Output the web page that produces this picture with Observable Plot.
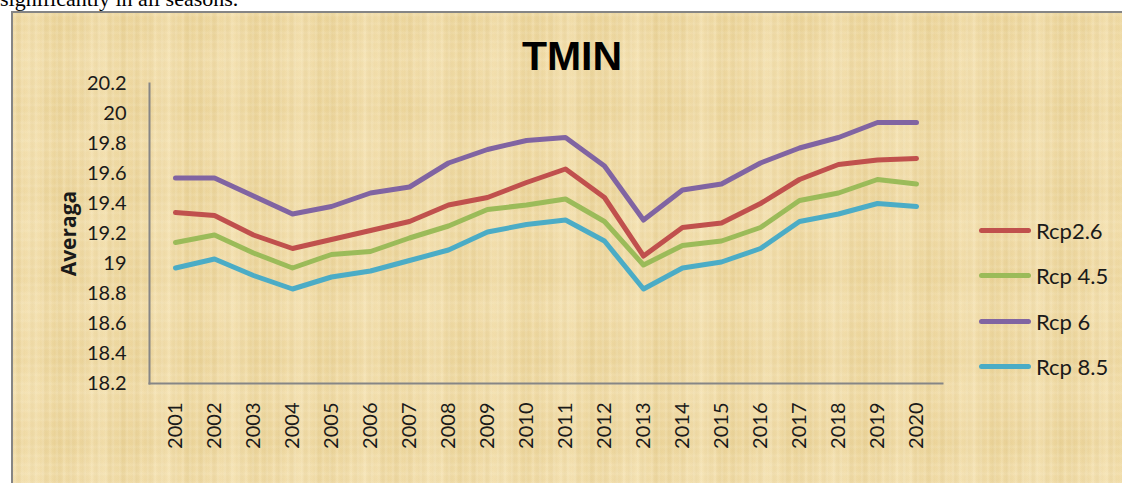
<!DOCTYPE html>
<html>
<head>
<meta charset="utf-8">
<script src="https://cdn.jsdelivr.net/npm/d3@7"></script>
<script src="https://cdn.jsdelivr.net/npm/@observablehq/plot@0.6"></script>
<style>
  html, body { margin: 0; padding: 0; background: #fff; overflow: hidden; }
  #wrap { position: relative; width: 1122px; height: 483px; overflow: hidden; }
  #intro { position: absolute; left: 0; top: -14px; font-family: "Liberation Serif", "DejaVu Serif", serif; font-size: 22px; color: #000; white-space: nowrap; }
  #panel {
    position: absolute; left: 11px; top: 11px; width: 1130px; height: 490px;
    border-left: 2px solid #858585; border-top: 2px solid #858585;
    background-color: #efd9a3;
    background-image:
      repeating-linear-gradient(90deg, rgba(255,246,220,0) 0px, rgba(255,246,220,0.22) 2px, rgba(255,246,220,0) 4px, rgba(0,0,0,0) 7px),
      repeating-linear-gradient(90deg, rgba(190,160,90,0) 0px, rgba(190,160,90,0.10) 6px, rgba(190,160,90,0) 13px),
      repeating-linear-gradient(0deg, rgba(255,246,220,0) 0px, rgba(255,246,220,0.16) 2px, rgba(255,246,220,0) 5px, rgba(0,0,0,0) 9px),
      repeating-linear-gradient(90deg, rgba(250,235,195,0) 0px, rgba(250,235,195,0.35) 20px, rgba(230,205,140,0.25) 41px, rgba(250,235,195,0) 67px),
      repeating-linear-gradient(0deg, rgba(250,235,195,0) 0px, rgba(250,235,195,0.25) 31px, rgba(228,202,135,0.2) 59px, rgba(250,235,195,0) 83px);
  }
  #title { position: absolute; left: 0; width: 1144px; top: 33px; text-align: center; font-family: "Liberation Sans", Arial, sans-serif; font-weight: bold; font-size: 41px; color: #000; }
  #chart { position: absolute; left: 0; top: 0; }
  #legend { position: absolute; left: 979px; top: 208px; font-family: Lato, "Open Sans", sans-serif; font-size: 22px; color: #1a1a1a; }
  #legend .row { display: flex; align-items: center; height: 45.3px; }
  #legend .sw { width: 52px; height: 5px; border-radius: 3px; margin-right: 5px; }
  g[aria-label="y-axis label"] text { font-weight: bold; font-size: 21px; font-family: "Open Sans", Lato, sans-serif; }
</style>
</head>
<body>
<div id="wrap">
  <div id="intro">significantly in all seasons.</div>
  <div id="panel"></div>
  <div id="title">TMIN</div>
  <div id="chart"></div>
  <div id="legend"></div>
</div>
<script>
const years = ["2001","2002","2003","2004","2005","2006","2007","2008","2009","2010",
               "2011","2012","2013","2014","2015","2016","2017","2018","2019","2020"];
const seriesNames = ["Rcp2.6", "Rcp 4.5", "Rcp 6", "Rcp 8.5"];
const seriesColors = ["#c0504d", "#9bbb59", "#8064a2", "#4bacc6"];
const rcp26 = [19.34,19.32,19.19,19.10,19.16,19.22,19.28,19.39,19.44,19.54,19.63,19.44,19.05,19.24,19.27,19.40,19.56,19.66,19.69,19.70];
const rcp45 = [19.14,19.19,19.07,18.97,19.06,19.08,19.17,19.25,19.36,19.39,19.43,19.28,18.99,19.12,19.15,19.24,19.42,19.47,19.56,19.53];
const rcp6  = [19.57,19.57,19.45,19.33,19.38,19.47,19.51,19.67,19.76,19.82,19.84,19.65,19.29,19.49,19.53,19.67,19.77,19.84,19.94,19.94];
const rcp85 = [18.97,19.03,18.92,18.83,18.91,18.95,19.02,19.09,19.21,19.26,19.29,19.15,18.83,18.97,19.01,19.10,19.28,19.33,19.40,19.38];
const yTicks = [18.2,18.4,18.6,18.8,19,19.2,19.4,19.6,19.8,20,20.2];
const yLabel = "Averaga";

const seriesValues = [rcp26, rcp45, rcp6, rcp85];
const data = seriesNames.flatMap((s, i) => years.map((year, j) => ({series: s, year, value: seriesValues[i][j]})));

const font = "Lato, 'Open Sans', sans-serif";
const axisStroke = "#868686";
const chart = Plot.plot({
  width: 1122,
  height: 483,
  marginLeft: 149,
  marginRight: 180,
  marginTop: 83,
  marginBottom: 100,
  style: {background: "transparent", fontFamily: font, color: "#1a1a1a"},
  x: {type: "point", domain: years, padding: 0.5},
  y: {domain: [18.2, 20.2]},
  color: {domain: seriesNames, range: seriesColors},
  marks: [
    Plot.frame({anchor: "left", stroke: axisStroke, strokeWidth: 2}),
    Plot.frame({anchor: "bottom", stroke: axisStroke, strokeWidth: 2}),
    Plot.axisY({ticks: yTicks, tickFormat: d => String(+d.toFixed(1)), tickSize: 0, tickPadding: 23,
      fontSize: 20, fill: "#1a1a1a",
      label: yLabel, labelAnchor: "center", labelOffset: 88, labelArrow: "none"}),
    Plot.axisX({tickSize: 0, tickPadding: 19, tickRotate: -90, fontSize: 20, fill: "#1a1a1a", label: null}),
    Plot.line(data, {x: "year", y: "value", stroke: "series", z: "series", strokeWidth: 5,
      strokeLinecap: "round", strokeLinejoin: "round"})
  ]
});
document.getElementById("chart").appendChild(chart);

const legend = document.getElementById("legend");
seriesNames.forEach((s, i) => {
  const row = document.createElement("div");
  row.className = "row";
  const sw = document.createElement("div");
  sw.className = "sw";
  sw.style.background = seriesColors[i];
  const t = document.createElement("span");
  t.textContent = s;
  row.appendChild(sw); row.appendChild(t);
  legend.appendChild(row);
});
</script>
</body>
</html>
